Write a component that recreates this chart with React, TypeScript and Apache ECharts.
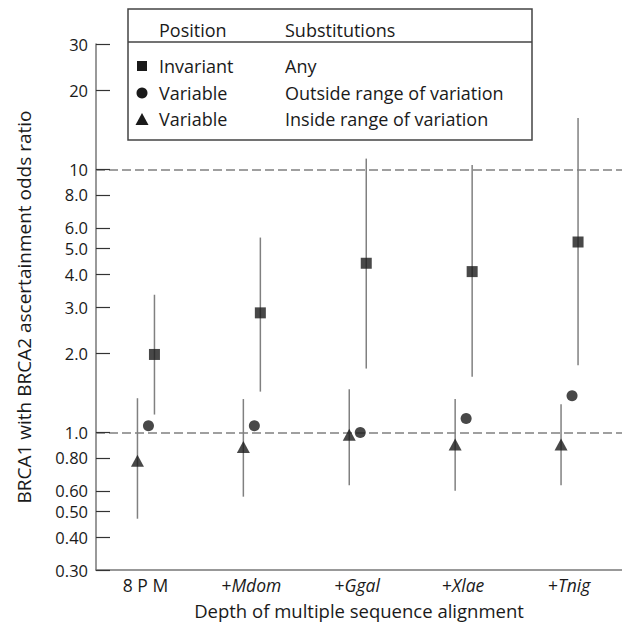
import React, { useEffect, useRef } from 'react';
import * as echarts from 'echarts';

const categories = ['8 P M', '+Mdom', '+Ggal', '+Xlae', '+Tnig'];
const categoryPositions = [1, 2, 3, 4, 5];

const yTickValues = [0.3, 0.4, 0.5, 0.6, 0.8, 1, 2, 3, 4, 5, 6, 8, 10, 20, 30];
const yTickLabels = ['0.30', '0.40', '0.50', '0.60', '0.80', '1.0', '2.0', '3.0', '4.0', '5.0', '6.0', '8.0', '10', '20', '30'];
const referenceLines = [1, 10];

// Invariant position, any substitution (squares)
const invariantOR = [1.98, 2.85, 4.4, 4.09, 5.3];
const invariantLow = [1.17, 1.43, 1.75, 1.63, 1.8];
const invariantHigh = [3.34, 5.51, 11.0, 10.4, 15.7];

// Variable position, outside range of variation (circles)
const outsideOR = [1.06, 1.06, 1.0, 1.13, 1.38];

// Variable position, inside range of variation (triangles)
const insideOR = [0.78, 0.88, 0.98, 0.9, 0.9];
const insideLow = [0.47, 0.57, 0.63, 0.6, 0.63];
const insideHigh = [1.35, 1.34, 1.46, 1.34, 1.28];

const legendHeaders = ['Position', 'Substitutions'];
const legendPositions = ['Invariant', 'Variable', 'Variable'];
const legendSubstitutions = ['Any', 'Outside range of variation', 'Inside range of variation'];

const FONT = '"Open Sans", "Noto Sans", sans-serif';
const TEXT = '#1a1a1a';
const MARK = '#1a1a1a';
const GREY = '#808080';

const OFF_TRI = -8;
const OFF_CIR = 3;
const OFF_SQ = 9;

function errorBarSeries(low: number[], high: number[], dx: number) {
  return {
    type: 'custom',
    silent: true,
    z: 1,
    encode: { x: 0, y: [1, 2] },
    data: categoryPositions.map((p, i) => [p, low[i], high[i]]),
    renderItem: (_params: any, api: any) => {
      const x = api.value(0);
      const p1 = api.coord([x, api.value(1)]);
      const p2 = api.coord([x, api.value(2)]);
      return {
        type: 'line',
        shape: { x1: p1[0] + dx, y1: p1[1], x2: p2[0] + dx, y2: p2[1] },
        style: { stroke: GREY, lineWidth: 1.5 },
      };
    },
  };
}

function labelFor(v: number) {
  let best = 0;
  let bd = Infinity;
  yTickValues.forEach((t, i) => {
    const d = Math.abs(Math.log10(t) - Math.log10(v));
    if (d < bd) {
      bd = d;
      best = i;
    }
  });
  return yTickLabels[best];
}

function catLabel(v: number) {
  const idx = categoryPositions.indexOf(Math.round(v));
  if (idx < 0 || Math.abs(v - Math.round(v)) > 1e-6) return '';
  const c = categories[idx];
  if (c.startsWith('+')) return '+{i|' + c.slice(1) + '}';
  return c;
}

export default function App() {
  const ref = useRef<HTMLDivElement>(null);
  useEffect(() => {
    document.body.style.margin = '0';
    if (!ref.current) return;
    const chart = echarts.init(ref.current, null, { renderer: 'svg' });
    const rowY = [66, 93, 119];
    const LF = 18;
    const graphic: any[] = [
      {
        type: 'rect',
        z: 100,
        shape: { x: 128, y: 9, width: 404, height: 131 },
        style: { fill: '#fff', stroke: '#444', lineWidth: 1.5 },
      },
      {
        type: 'line',
        z: 101,
        shape: { x1: 128, y1: 42, x2: 532, y2: 42 },
        style: { stroke: '#444', lineWidth: 1.5 },
      },
      {
        type: 'text', z: 101, x: 159, y: 30,
        style: { text: legendHeaders[0], fontFamily: FONT, fontSize: LF, fill: TEXT, verticalAlign: 'middle' },
      },
      {
        type: 'text', z: 101, x: 285, y: 30,
        style: { text: legendHeaders[1], fontFamily: FONT, fontSize: LF, fill: TEXT, verticalAlign: 'middle' },
      },
      { type: 'rect', z: 101, shape: { x: 137, y: 61, width: 10, height: 10 }, style: { fill: MARK } },
      { type: 'circle', z: 101, shape: { cx: 142, cy: 93, r: 5.5 }, style: { fill: MARK } },
      { type: 'polygon', z: 101, shape: { points: [[135.5, 125], [148.5, 125], [142, 113]] }, style: { fill: MARK } },
    ];
    legendPositions.forEach((t, i) => {
      graphic.push({
        type: 'text', z: 101, x: 159, y: rowY[i],
        style: { text: t, fontFamily: FONT, fontSize: LF, fill: TEXT, verticalAlign: 'middle' },
      });
      graphic.push({
        type: 'text', z: 101, x: 285, y: rowY[i],
        style: { text: legendSubstitutions[i], fontFamily: FONT, fontSize: LF, fill: TEXT, verticalAlign: 'middle' },
      });
    });

    chart.setOption({
      animation: false,
      backgroundColor: '#fff',
      grid: { left: 96, right: 0, top: 44, bottom: 54, containLabel: false, outerBoundsMode: 'none' },
      xAxis: {
        type: 'value',
        min: 0.533,
        max: 5.5,
        name: 'Depth of multiple sequence alignment',
        nameLocation: 'middle',
        nameGap: 31,
        nameTextStyle: { fontFamily: FONT, fontSize: 18.5, color: TEXT },
        axisLine: { show: true, lineStyle: { color: '#777', width: 1.5 } },
        axisTick: { show: false },
        splitLine: { show: false },
        axisLabel: {
          customValues: categoryPositions,
          formatter: (v: number) => catLabel(v),
          margin: 6,
          fontFamily: FONT,
          fontSize: 17.5,
          color: TEXT,
          rich: { i: { fontFamily: FONT, fontSize: 17.5, fontStyle: 'italic', color: TEXT } },
        },
      },
      yAxis: {
        type: 'log',
        logBase: 10,
        min: 0.3,
        max: 30,
        name: 'BRCA1 with BRCA2 ascertainment odds ratio',
        nameLocation: 'middle',
        nameGap: 63,
        nameTextStyle: { fontFamily: FONT, fontSize: 19, color: TEXT },
        axisLine: { show: true, lineStyle: { color: '#777', width: 1.5 } },
        axisTick: { show: true, inside: true, length: 14, customValues: yTickValues, lineStyle: { color: '#333', width: 1.2 } },
        minorTick: { show: false },
        splitLine: { show: false },
        axisLabel: {
          customValues: yTickValues,
          formatter: (v: number) => labelFor(v),
          margin: 8,
          fontFamily: FONT,
          fontSize: 16.5,
          lineHeight: 18,
          color: TEXT,
        },
      },
      graphic,
      series: [
        errorBarSeries(invariantLow, invariantHigh, OFF_SQ),
        errorBarSeries(insideLow, insideHigh, OFF_TRI),
        {
          type: 'scatter',
          z: 3,
          symbol: 'rect',
          symbolSize: 11,
          symbolOffset: [OFF_SQ, 0],
          itemStyle: { color: MARK },
          data: categoryPositions.map((p, i) => [p, invariantOR[i]]),
          markLine: {
            silent: true,
            symbol: ['none', 'none'],
            label: { show: false },
            lineStyle: { color: GREY, width: 1.5, type: [9, 4] },
            data: referenceLines.map((v) => ({ yAxis: v })),
            z: 0,
          },
        },
        {
          type: 'scatter',
          z: 3,
          symbol: 'circle',
          symbolSize: 11,
          symbolOffset: [OFF_CIR, 0],
          itemStyle: { color: MARK },
          data: categoryPositions.map((p, i) => [p, outsideOR[i]]),
        },
        {
          type: 'scatter',
          z: 3,
          symbol: 'triangle',
          symbolSize: [13, 12],
          symbolOffset: [OFF_TRI, 0],
          itemStyle: { color: MARK },
          data: categoryPositions.map((p, i) => [p, insideOR[i]]),
        },
      ],
    });
    return () => chart.dispose();
  }, []);
  return <div ref={ref} style={{ width: 622, height: 624 }} />;
}
